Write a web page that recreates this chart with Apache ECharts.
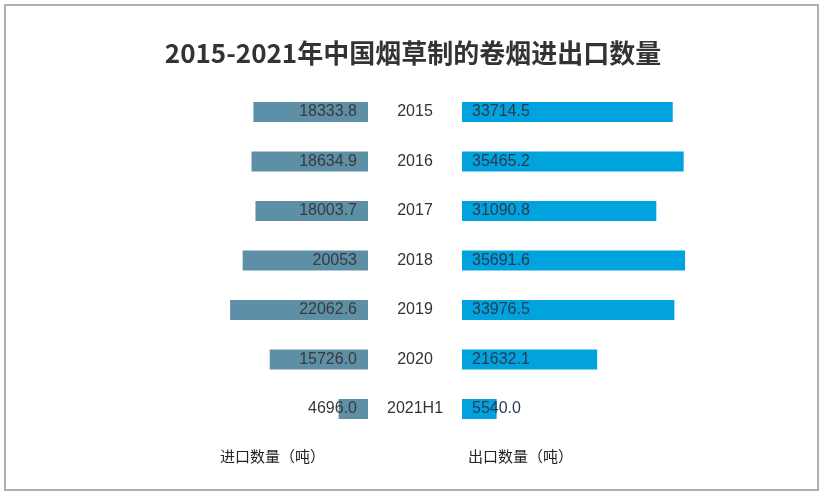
<!DOCTYPE html>
<html>
<head>
<meta charset="utf-8">
<script src="https://cdn.jsdelivr.net/npm/echarts@6/dist/echarts.min.js"></script>
<style>
html,body{margin:0;padding:0;background:#fff;}
#c{width:826px;height:498px;}
</style>
</head>
<body>
<div id="c"></div>
<script>
const titleText = '2015-2021年中国烟草制的卷烟进出口数量';
const years = ['2015','2016','2017','2018','2019','2020','2021H1'];
const imports = [18333.8, 18634.9, 18003.7, 20053, 22062.6, 15726.0, 4696.0];
const exports = [33714.5, 35465.2, 31090.8, 35691.6, 33976.5, 21632.1, 5540.0];
const importLabels = ['18333.8','18634.9','18003.7','20053','22062.6','15726.0','4696.0'];
const exportLabels = ['33714.5','35465.2','31090.8','35691.6','33976.5','21632.1','5540.0'];
const importName = '进口数量（吨）';
const exportName = '出口数量（吨）';

const chart = echarts.init(document.getElementById('c'));
const numFont = '"Liberation Sans", Arial, sans-serif';
const cjkFont = '"Noto Sans CJK SC", sans-serif';
const gridTop = 87.25, gridH = 346.5;

chart.setOption({
  animation: false,
  backgroundColor: '#fff',
  title: {
    text: titleText,
    left: 'center',
    top: 35,
    textStyle: {fontFamily: cjkFont, fontSize: 26, fontWeight: 'bold', color: '#333'}
  },
  graphic: [
    {type: 'rect', shape: {x: 5, y: 5, width: 813, height: 485},
     style: {fill: 'none', stroke: '#b0b0b0', lineWidth: 2}, silent: true},
    {type: 'text', left: 220, top: 449,
     style: {text: importName, font: '15px ' + cjkFont, fill: '#222'}},
    {type: 'text', left: 468, top: 449,
     style: {text: exportName, font: '15px ' + cjkFont, fill: '#222'}}
  ],
  grid: [
    {left: 118, width: 250, top: gridTop, height: gridH},
    {left: 462, width: 250, top: gridTop, height: gridH}
  ],
  xAxis: [
    {gridIndex: 0, type: 'value', min: 0, max: 40000, inverse: true, show: false},
    {gridIndex: 1, type: 'value', min: 0, max: 40000, show: false}
  ],
  yAxis: [
    {gridIndex: 0, type: 'category', data: years, inverse: true, position: 'right',
     axisLine: {show: false}, axisTick: {show: false}, splitLine: {show: false},
     axisLabel: {show: true, align: 'center', margin: 47, color: '#333',
                 fontFamily: numFont, fontSize: 16}},
    {gridIndex: 1, type: 'category', data: years, inverse: true,
     axisLine: {show: false}, axisTick: {show: false}, axisLabel: {show: false}}
  ],
  series: [
    {type: 'bar', xAxisIndex: 0, yAxisIndex: 0, data: imports, barWidth: 20,
     itemStyle: {color: '#5D8FA7'},
     label: {show: true, position: 'insideRight', distance: 11,
             formatter: p => importLabels[p.dataIndex],
             color: '#3a3a3a', fontFamily: numFont, fontSize: 16}},
    {type: 'bar', xAxisIndex: 1, yAxisIndex: 1, data: exports, barWidth: 20,
     itemStyle: {color: '#00A3DD'},
     label: {show: true, position: 'insideLeft', distance: 10,
             formatter: p => exportLabels[p.dataIndex],
             color: '#2b3a52', fontFamily: numFont, fontSize: 16}}
  ]
});
</script>
</body>
</html>
